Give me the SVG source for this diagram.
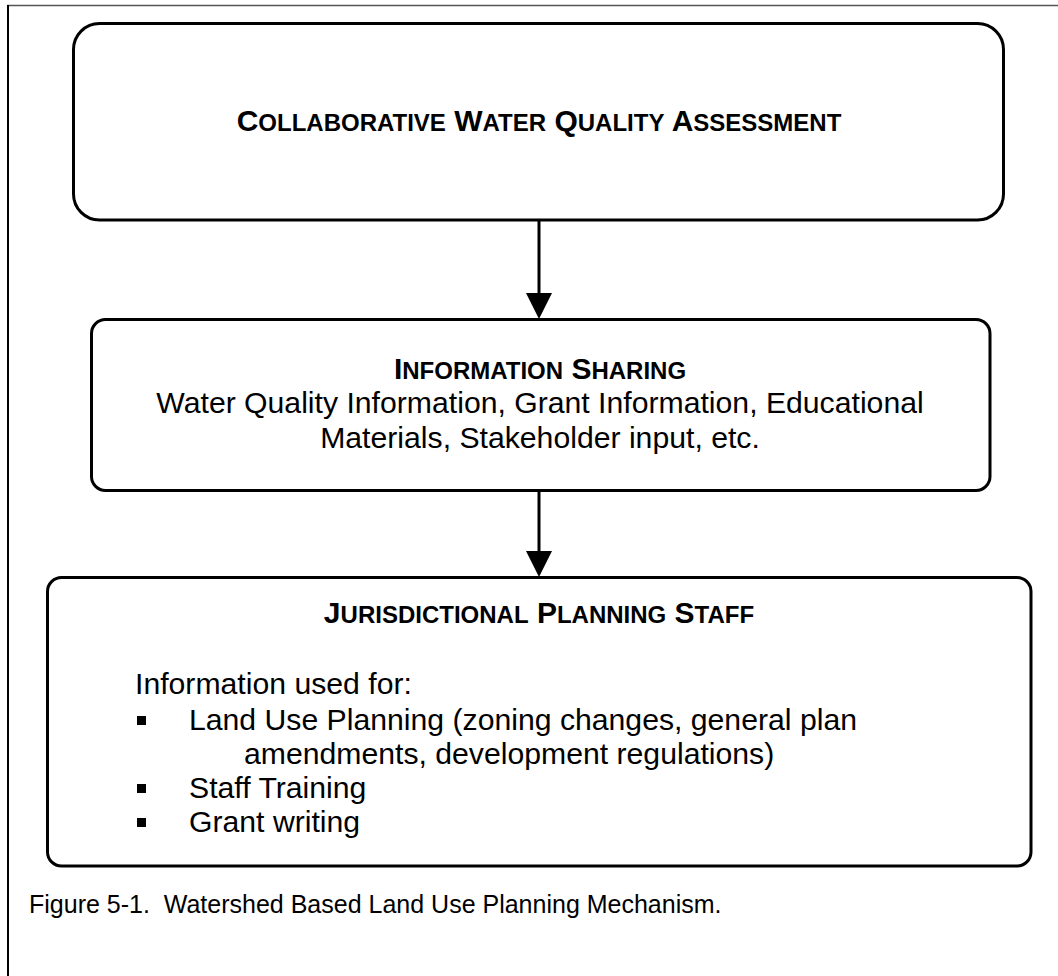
<svg xmlns="http://www.w3.org/2000/svg" width="1058" height="976" viewBox="0 0 1058 976">
  <style>
    .box { fill: #fff; stroke: #000; stroke-width: 3; }
    .link { stroke: #000; stroke-width: 3; fill: none; }
    .head { fill: #000; }
    .t { font-family: "Liberation Sans", Arial, sans-serif; fill: #000; }
    .body { font-size: 30.2px; }
    .hdr { font-size: 30px; font-weight: bold; }
    .sc { font-size: 24px; }
    .cap { font-size: 25px; white-space: pre; }
  </style>
  <rect width="1058" height="976" fill="#fff"/>

  <!-- page frame (open on right and bottom) -->
  <g id="frame">
    <line x1="7" y1="5.5" x2="1058" y2="5.5" stroke="#555" stroke-width="1.5"/>
    <line x1="8" y1="5" x2="8" y2="976" stroke="#000" stroke-width="2"/>
  </g>

  <g id="connectors">
    <line class="link" x1="539" y1="220" x2="539" y2="294"/>
    <polygon class="head" points="526,293 552,293 539,319"/>
    <line class="link" x1="539" y1="491" x2="539" y2="552"/>
    <polygon class="head" points="526,551 552,551 539,577"/>
  </g>

  <g id="assessment">
    <rect class="box" x="73.5" y="23.5" width="930" height="196.5" rx="26"/>
    <text class="t hdr" x="539" y="131" text-anchor="middle">C<tspan class="sc">OLLABORATIVE</tspan> W<tspan class="sc">ATER</tspan> Q<tspan class="sc">UALITY</tspan> A<tspan class="sc">SSESSMENT</tspan></text>
  </g>

  <g id="sharing">
    <rect class="box" x="91.5" y="319.5" width="898.5" height="171" rx="14"/>
    <text class="t hdr" x="540" y="379" text-anchor="middle">I<tspan class="sc">NFORMATION</tspan> S<tspan class="sc">HARING</tspan></text>
    <text class="t body" x="540" y="413" text-anchor="middle">Water Quality Information, Grant Information, Educational</text>
    <text class="t body" x="540" y="448" text-anchor="middle">Materials, Stakeholder input, etc.</text>
  </g>

  <g id="staff">
    <rect class="box" x="47.5" y="577.5" width="983.5" height="288.5" rx="14"/>
    <text class="t hdr" x="539" y="623" text-anchor="middle">J<tspan class="sc">URISDICTIONAL</tspan> P<tspan class="sc">LANNING</tspan> S<tspan class="sc">TAFF</tspan></text>
    <text class="t body" x="135" y="694">Information used for:</text>
    <rect x="137" y="716" width="9" height="9" fill="#000"/>
    <text class="t body" x="189" y="730">Land Use Planning (zoning changes, general plan</text>
    <text class="t body" x="244" y="764">amendments, development regulations)</text>
    <rect x="137" y="784" width="9" height="9" fill="#000"/>
    <text class="t body" x="189" y="798">Staff Training</text>
    <rect x="137" y="818" width="9" height="9" fill="#000"/>
    <text class="t body" x="189" y="832">Grant writing</text>
  </g>

  <text id="caption" class="t cap" x="29" y="913" xml:space="preserve">Figure 5-1.  Watershed Based Land Use Planning Mechanism.</text>
</svg>
